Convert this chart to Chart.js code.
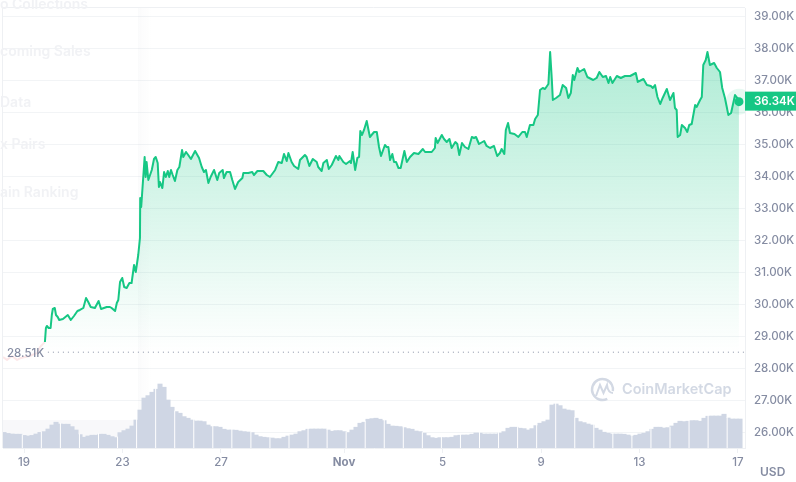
<!DOCTYPE html>
<html>
<head>
<meta charset="utf-8">
<title>Price chart</title>
<script src="https://cdn.jsdelivr.net/npm/chart.js@4/dist/chart.umd.min.js"></script>
<style>
    html, body { margin: 0; padding: 0; background: #fff; overflow: hidden; }
    #wrap { position: relative; width: 796px; height: 482px; overflow: hidden; }
    canvas { position: absolute; left: 0; top: 0; }
    .ghost { position: absolute; left: 0; font: 600 14px Inter, sans-serif; color: #f1f2f5; white-space: nowrap; }
</style>
</head>
<body>
<div id="wrap">
    <canvas id="priceChart" width="796" height="482"></canvas>
    <div class="ghost" style="top:-5px">o Collections</div>
    <div class="ghost" style="top:42px">coming Sales</div>
    <div class="ghost" style="top:93px">Data</div>
    <div class="ghost" style="top:135px">x Pairs</div>
    <div class="ghost" style="top:183px">ain Ranking</div>
</div>
<script>
// Days counted from 19 Oct
const priceDays = [
    -0.85, -0.69, -0.49, -0.28, -0.12, 0.04, 0.24, 0.41, 0.53, 0.65, 0.77, 0.85,
    0.89, 0.93, 1.00, 1.08, 1.13, 1.17, 1.25, 1.30, 1.37, 1.43, 1.58, 1.78, 1.90, 2.03, 2.17, 2.27, 2.41, 2.52,
    2.61, 2.71, 2.88, 3.03, 3.13, 3.36, 3.49, 3.56, 3.70, 3.77, 3.83, 3.90, 3.99, 4.07, 4.17, 4.28, 4.37, 4.47,
    4.54, 4.64, 4.71, 4.72, 4.76, 4.90, 4.94, 4.98, 5.05, 5.19, 5.28, 5.35, 5.43, 5.48, 5.52, 5.62, 5.69, 5.76,
    5.84, 5.90, 5.97, 6.04, 6.13, 6.23, 6.31, 6.42, 6.47, 6.58, 6.67, 6.78, 6.95, 7.11, 7.22, 7.31, 7.39, 7.49,
    7.58, 7.72, 7.85, 7.93, 8.07, 8.12, 8.23, 8.37, 8.46, 8.57, 8.70, 8.87, 8.91, 9.11, 9.27, 9.34, 9.48, 9.72,
    9.86, 9.99, 10.20, 10.33, 10.47, 10.56, 10.67, 10.74, 10.87, 10.97, 11.14, 11.21, 11.41, 11.48, 11.59, 11.73,
    11.89, 11.95, 12.09, 12.16, 12.30, 12.38, 12.50, 12.67, 12.77, 12.81, 12.97, 13.08, 13.24, 13.28, 13.35, 13.45,
    13.54, 13.61, 13.66, 13.73, 13.81, 13.92, 14.05, 14.22, 14.33, 14.42, 14.50, 14.66, 14.73, 14.80, 14.87, 14.96,
    15.03, 15.11, 15.21, 15.30, 15.45, 15.55, 15.68, 15.84, 16.02, 16.20, 16.29, 16.42, 16.56, 16.69, 16.72, 16.80,
    16.97, 17.06, 17.17, 17.28, 17.37, 17.52, 17.60, 17.68, 17.79, 17.91, 18.05, 18.19, 18.28, 18.36, 18.48, 18.69,
    18.79, 18.93, 19.09, 19.22, 19.33, 19.40, 19.51, 19.57, 19.66, 19.74, 19.92, 20.08, 20.24, 20.35, 20.42, 20.55,
    20.69, 20.76, 20.87, 20.96, 21.07, 21.16, 21.30, 21.37, 21.44, 21.48, 21.61, 21.77, 21.88, 22.02, 22.11, 22.21,
    22.29, 22.35, 22.48, 22.55, 22.75, 22.88, 23.12, 23.26, 23.37, 23.51, 23.64, 23.74, 23.81, 23.90, 24.08, 24.24,
    24.41, 24.62, 24.85, 24.93, 25.16, 25.30, 25.46, 25.54, 25.63, 25.73, 25.84, 25.94, 26.11, 26.24, 26.38, 26.44,
    26.51, 26.55, 26.65, 26.72, 26.85, 26.94, 27.02, 27.12, 27.26, 27.32, 27.46, 27.53, 27.59, 27.69, 27.76, 27.86,
    28.03, 28.14, 28.27, 28.36, 28.47, 28.61, 28.72, 28.88, 29.01, 29.04
];

const prices = [
    28360, 28270, 28390, 28270, 28330, 28360, 28390, 28450, 28480, 28670, 28770, 28830,
    29266, 29329, 29266, 29266, 29672, 29860, 29891, 29672, 29610, 29516, 29547, 29672, 29516, 29641, 29797, 29829, 29891, 30204,
    30079, 29922, 29891, 30110, 29860, 29922, 29922, 29891, 29797, 30047, 30141, 30704, 30829, 30547, 30516, 30672, 30672, 31235,
    31016, 31547, 32079, 33329, 33047, 34610, 33985, 34454, 33891, 34204, 34547, 34610, 34422, 33672, 33829, 33641, 34141, 33985,
    34172, 33985, 34204, 34047, 33860, 34204, 34297, 34829, 34610, 34766, 34672, 34547, 34797, 34579, 34297, 34141, 34204, 33797,
    33985, 34204, 33891, 34110, 34204, 33954, 34141, 34141, 33891, 33610, 33829, 33954, 34110, 34110, 34141, 34047, 34172, 34172,
    34047, 33985, 34204, 34454, 34422, 34704, 34485, 34735, 34454, 34329, 34235, 34516, 34672, 34610, 34329, 34547,
    34454, 34297, 34172, 34422, 34516, 34235, 34360, 34641, 34516, 34641, 34454, 34391, 34485, 34422, 34766, 34204,
    34579, 34610, 35422, 35297, 35454, 35735, 35235, 35391, 35391, 34922, 34641, 34985, 34922, 34922, 34516, 34704,
    34454, 34454, 34266, 34266, 34797, 34454, 34610, 34735, 34704, 34860, 34766, 34766, 34766, 34891, 35204, 35047,
    35297, 35172, 35079, 35172, 34891, 35079, 35016, 34672, 35047, 34922, 34860, 35235, 35204, 35235, 35016, 35110,
    34954, 34891, 34954, 34641, 34735, 34860, 34704, 35454, 35672, 35360, 35329, 35235, 35391, 35391, 35235, 35610,
    35610, 35797, 35922, 36704, 36766, 36735, 36891, 37891, 37016, 36391, 36454, 36547, 36860, 36766, 36454, 36610,
    37172, 37016, 37391, 37266, 37360, 37110, 37016, 37079, 37266, 37110, 37141, 36922, 37110, 36922, 37141, 37079,
    37141, 37141, 37235, 36954, 37047, 36860, 36829, 36766, 36860, 36485, 36266, 36454, 36735, 36391, 36610, 36141,
    36079, 35235, 35297, 35610, 35516, 35391, 35610, 35641, 36235, 36172, 36391, 36485, 37485, 37641, 37891, 37485,
    37547, 37391, 37266, 36766, 36454, 35922, 35985, 36547, 36422, 36340
];

// Volume, billions, one bar every volumeStepDays from volumeStartDay
const volumeStartDay = -0.812;
const volumeStepDays = 0.16247;
const volumes = [
    7.8, 7.3, 7.0, 6.9, 6.9, 6.3, 6.0, 6.3, 7.0, 7.8, 8.2, 9.5, 11.5, 12.9, 12.0, 11.9, 11.9, 10.7, 9.0, 6.7,
    5.4, 6.0, 6.4, 6.4, 6.9, 6.9, 6.4, 5.7, 5.2, 7.7, 8.7, 9.5, 11.0, 14.0, 19.0, 25.0, 26.2, 27.9, 29.4, 32.0,
    30.4, 24.0, 20.4, 18.2, 17.4, 15.7, 14.9, 14.0, 13.5, 13.5, 13.2, 11.5, 10.7, 10.7, 10.4, 9.4, 9.0, 9.0, 8.9, 8.5,
    8.2, 8.0, 7.7, 6.5, 5.7, 5.4, 5.2, 5.0, 4.7, 4.7, 5.4, 6.0, 6.5, 7.0, 8.2, 8.7, 9.4, 9.5, 9.5, 9.5,
    9.5, 9.0, 8.4, 8.7, 8.7, 8.2, 7.7, 9.0, 10.4, 12.4, 12.9, 14.4, 14.7, 14.9, 14.4, 13.7, 11.9, 11.0, 10.9, 10.7,
    10.2, 9.7, 9.4, 8.5, 8.2, 7.4, 6.2, 5.2, 4.9, 5.2, 5.2, 5.2, 5.4, 6.2, 6.4, 6.5, 6.5, 6.9, 7.5, 7.4,
    7.0, 7.0, 7.0, 7.0, 7.4, 8.2, 9.9, 10.4, 10.4, 9.9, 9.7, 9.0, 9.7, 11.2, 12.4, 13.2, 14.0, 21.5, 22.0, 21.2,
    19.5, 19.0, 18.7, 14.9, 13.2, 12.7, 12.0, 11.5, 9.9, 9.0, 7.9, 7.4, 7.0, 7.0, 7.0, 6.9, 6.5, 6.0, 6.4, 7.0,
    7.4, 8.2, 9.4, 10.4, 10.4, 10.0, 10.2, 11.0, 12.4, 13.4, 13.2, 13.4, 13.7, 13.7, 13.4, 14.9, 15.9, 16.0, 16.0, 16.0,
    16.9, 15.0, 14.5, 14.5, 14.5
];

const priceTicks = [26000, 27000, 28000, 29000, 30000, 31000, 32000, 33000, 34000, 35000, 36000, 37000, 38000, 39000];
const dayTicks = [0, 4, 8, 13, 17, 21, 25, 29];
const dayLabels = ['19', '23', '27', 'Nov', '5', '9', '13', '17'];

const baseValue = 28510;   // price at the start of the period
const lastPrice = 36340;
const lastDay = 29.04;
const firstSolidDay = 0.85; // everything before this sits faded behind the page overlay

const GREEN = '#16c784';
const AXIS_TEXT = '#858ca2';
const GRID = '#f2f4f6';
const FRAME = '#eef0f3';

function kLabel(v) {
    return (v / 1000).toFixed(2) + 'K';
}

// Tick labels must not push the plot area in
function noLabelMargins(s) {
    s.paddingLeft = 0;
    s.paddingRight = 0;
    s.paddingTop = 0;
    s.paddingBottom = 0;
}

const canvas = document.getElementById('priceChart');
const ctx2d = canvas.getContext('2d');

const fillGradient = ctx2d.createLinearGradient(0, 50, 0, 352);
fillGradient.addColorStop(0, 'rgba(22, 199, 132, 0.34)');
fillGradient.addColorStop(1, 'rgba(22, 199, 132, 0)');

// Frame, faint page overlay bands
const backdropPlugin = {
    id: 'backdrop',
    beforeDatasetsDraw(chart) {
        const { ctx, chartArea: a } = chart;
        ctx.save();
        ctx.fillStyle = '#f8f8fa';
        ctx.fillRect(a.left, 420, 135, a.bottom - 420);
        const band = ctx.createLinearGradient(138, 0, 152, 0);
        band.addColorStop(0, 'rgba(120, 130, 150, 0.03)');
        band.addColorStop(1, 'rgba(120, 130, 150, 0)');
        ctx.fillStyle = band;
        ctx.fillRect(138, a.top, 14, a.bottom - a.top);
        ctx.strokeStyle = FRAME;
        ctx.lineWidth = 1;
        ctx.beginPath();
        ctx.moveTo(a.left - 0.5, a.bottom);
        ctx.lineTo(a.left - 0.5, a.top - 0.5);
        ctx.lineTo(a.right, a.top - 0.5);
        ctx.stroke();
        ctx.restore();
    }
};

// White seams through the volume bars, price tag, base label, watermark
const overlayPlugin = {
    id: 'overlay',
    afterDatasetsDraw(chart) {
        const { ctx, chartArea: a, scales } = chart;
        ctx.save();

        ctx.strokeStyle = '#fff';
        ctx.lineWidth = 1;
        for (let px = 22.3; px < 740; px += 19.05) {
            const day = scales.x.getValueForPixel(px);
            const i = Math.round((day - volumeStartDay) / volumeStepDays);
            const v = volumes[Math.max(0, Math.min(volumes.length - 1, i))];
            ctx.beginPath();
            ctx.moveTo(px, a.bottom);
            ctx.lineTo(px, scales.vol.getPixelForValue(v) - 1);
            ctx.stroke();
        }

        ctx.strokeStyle = '#d3d9e4';
        ctx.lineWidth = 2.4;
        ctx.beginPath();
        ctx.arc(602.5, 389.5, 10.5, 0.35 * Math.PI, 2.05 * Math.PI);
        ctx.stroke();
        ctx.lineWidth = 2;
        ctx.beginPath();
        ctx.moveTo(596, 396);
        ctx.lineTo(600, 385);
        ctx.lineTo(603.5, 393);
        ctx.lineTo(607, 385);
        ctx.quadraticCurveTo(608, 393, 613, 393);
        ctx.stroke();
        ctx.fillStyle = '#d3d9e4';
        ctx.font = '600 14.5px Inter, sans-serif';
        ctx.textAlign = 'left';
        ctx.textBaseline = 'middle';
        ctx.fillText('CoinMarketCap', 622, 390);

        ctx.fillStyle = AXIS_TEXT;
        ctx.font = '500 11.5px Inter, sans-serif';
        ctx.fillText(kLabel(baseValue), 7, scales.y.getPixelForValue(baseValue) + 1);

        ctx.font = '600 12px Inter, sans-serif';
        ctx.fillText('USD', 760, 472);
        ctx.restore();
    },
    afterDraw(chart) {
        const { ctx, chartArea: a, scales } = chart;
        const y = scales.y.getPixelForValue(lastPrice);
        ctx.save();
        ctx.fillStyle = GREEN;
        ctx.fillRect(a.right, y - 10, chart.width - a.right, 19);
        ctx.fillStyle = '#fff';
        ctx.font = '600 11.5px Inter, sans-serif';
        ctx.textAlign = 'left';
        ctx.textBaseline = 'middle';
        ctx.fillText(kLabel(lastPrice), 754, y);
        ctx.restore();
    }
};

new Chart(canvas, {
    type: 'line',
    data: {
        datasets: [
            {
                label: 'Last price halo',
                data: [{ x: lastDay, y: lastPrice }],
                yAxisID: 'y',
                pointRadius: 13,
                pointBackgroundColor: 'rgba(22, 199, 132, 0.1)',
                pointBorderWidth: 0,
                showLine: false,
                order: 1
            },
            {
                label: 'Last price',
                data: [{ x: lastDay, y: lastPrice }],
                yAxisID: 'y',
                pointRadius: 4.5,
                pointBackgroundColor: GREEN,
                pointBorderWidth: 0,
                showLine: false,
                order: 0
            },
            {
                label: 'Price',
                data: priceDays.map((d, i) => ({ x: d, y: prices[i] })),
                yAxisID: 'y',
                borderColor: GREEN,
                borderWidth: 2,
                borderJoinStyle: 'round',
                pointRadius: 0,
                tension: 0,
                fill: { target: { value: baseValue }, above: fillGradient, below: 'rgba(0,0,0,0)' },
                segment: {
                    borderColor: c => c.p1.parsed.x <= firstSolidDay ? 'rgba(234, 57, 67, 0.12)' : GREEN
                },
                order: 2
            },
            {
                label: 'Base',
                data: [{ x: 0.97, y: baseValue }, { x: 29.285, y: baseValue }],
                yAxisID: 'y',
                borderColor: '#8a92a6',
                borderWidth: 1,
                borderDash: [1, 4],
                pointRadius: 0,
                order: 3
            },
            {
                type: 'bar',
                label: 'Volume',
                data: volumes.map((v, i) => ({ x: volumeStartDay + i * volumeStepDays, y: v })),
                yAxisID: 'vol',
                backgroundColor: '#cfd6e4',
                barThickness: 4.4,
                borderWidth: 0,
                order: 4
            }
        ]
    },
    options: {
        responsive: false,
        animation: false,
        events: [],
        layout: { autoPadding: false, padding: { left: 3, top: 8, right: 0, bottom: 0 } },
        plugins: { legend: { display: false }, tooltip: { enabled: false } },
        scales: {
            x: {
                type: 'linear',
                min: -0.853,
                max: 29.285,
                offset: false,
                afterFit: s => { s.height = 34; noLabelMargins(s); },
                afterBuildTicks: s => { s.ticks = dayTicks.map(value => ({ value })); },
                border: { color: FRAME },
                grid: { drawOnChartArea: false, drawTicks: true, tickLength: 5, color: FRAME, offset: false },
                ticks: {
                    autoSkip: false,
                    maxRotation: 0,
                    padding: 3,
                    color: AXIS_TEXT,
                    font: c => ({
                        family: 'Inter, sans-serif',
                        size: 11.5,
                        weight: c.tick && c.tick.value === 13 ? '700' : '500'
                    }),
                    callback: value => dayLabels[dayTicks.indexOf(value)]
                }
            },
            y: {
                position: 'right',
                min: 25516,
                max: 39266,
                afterFit: s => { s.width = 51; noLabelMargins(s); },
                afterBuildTicks: s => { s.ticks = priceTicks.map(value => ({ value })); },
                border: { color: FRAME },
                grid: { color: GRID, drawTicks: false },
                ticks: {
                    padding: 9,
                    color: AXIS_TEXT,
                    font: { family: 'Inter, sans-serif', size: 11.5, weight: '500' },
                    callback: kLabel
                }
            },
            vol: {
                display: false,
                min: 0,
                max: 220
            }
        }
    },
    plugins: [backdropPlugin, overlayPlugin]
});
</script>
</body>
</html>
